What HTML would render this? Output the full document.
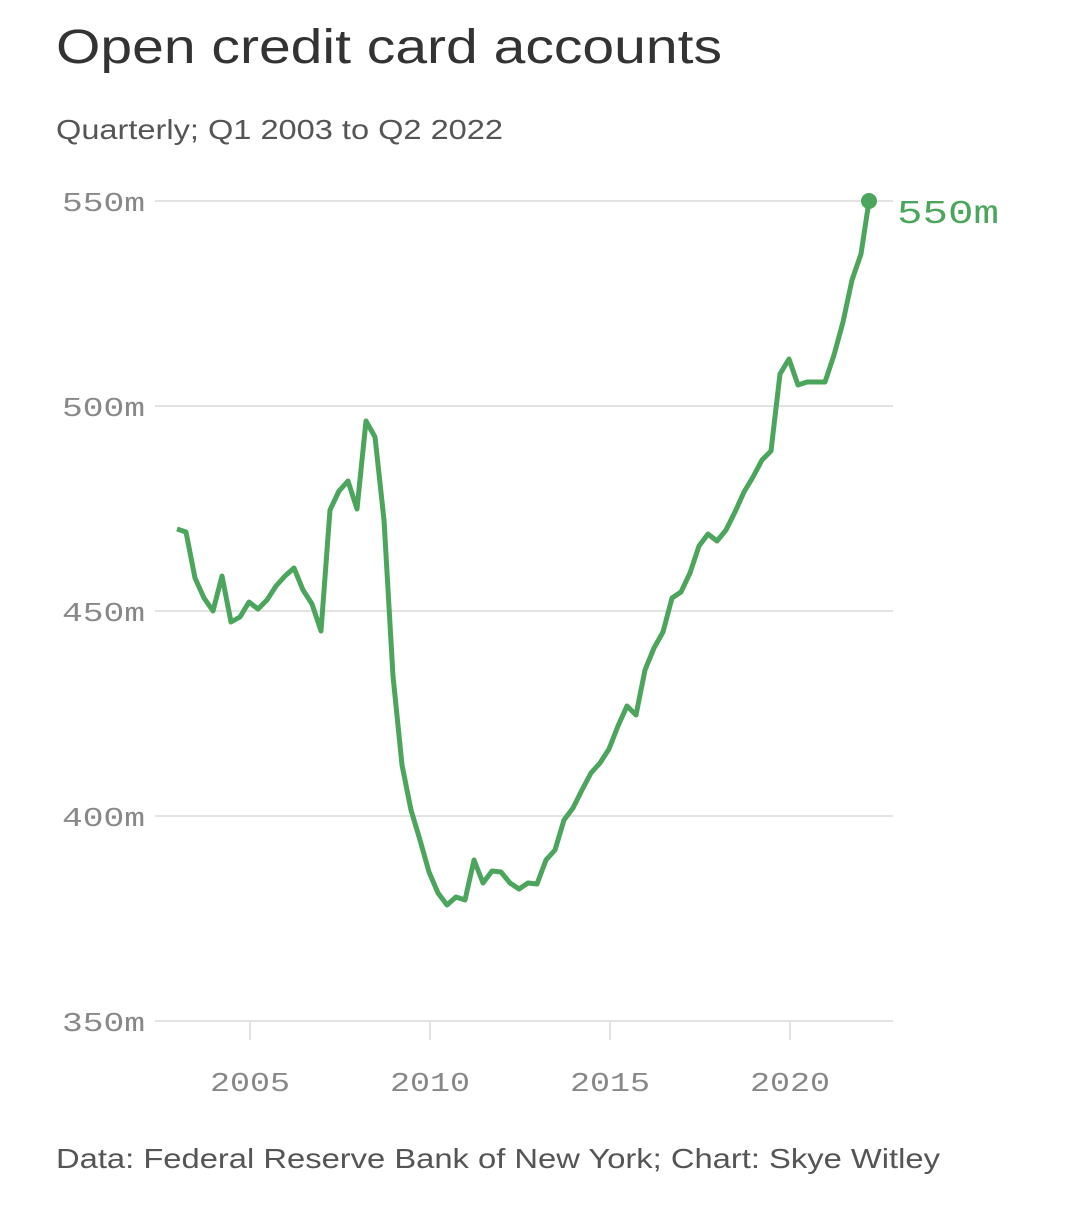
<!DOCTYPE html>
<html><head><meta charset="utf-8"><style>
body{margin:0;background:#fff;width:1084px;height:1200px;overflow:hidden}
</style></head><body>
<svg width="1084" height="1200" xmlns="http://www.w3.org/2000/svg">
<text x="56" y="63" font-family="Liberation Sans, sans-serif" font-size="48" fill="#333" textLength="666" lengthAdjust="spacingAndGlyphs">Open credit card accounts</text>
<text x="56" y="139" font-family="Liberation Sans, sans-serif" font-size="28" fill="#555" textLength="447" lengthAdjust="spacingAndGlyphs">Quarterly; Q1 2003 to Q2 2022</text>
<g stroke="#e3e3e3" stroke-width="2">
<line x1="155" y1="201" x2="893" y2="201"/><line x1="155" y1="406" x2="893" y2="406"/>
<line x1="155" y1="611" x2="893" y2="611"/><line x1="155" y1="816" x2="893" y2="816"/>
<line x1="155" y1="1021" x2="893" y2="1021"/>
<line x1="250" y1="1021" x2="250" y2="1040"/><line x1="430" y1="1021" x2="430" y2="1040"/>
<line x1="610" y1="1021" x2="610" y2="1040"/><line x1="790" y1="1021" x2="790" y2="1040"/>
</g>
<g font-family="Liberation Mono, monospace" font-size="27" fill="#888">
<text x="62" y="211" textLength="83" lengthAdjust="spacingAndGlyphs">550m</text>
<text x="62" y="416" textLength="83" lengthAdjust="spacingAndGlyphs">500m</text>
<text x="62" y="621" textLength="83" lengthAdjust="spacingAndGlyphs">450m</text>
<text x="62" y="826" textLength="83" lengthAdjust="spacingAndGlyphs">400m</text>
<text x="62" y="1031" textLength="83" lengthAdjust="spacingAndGlyphs">350m</text>
<text x="210" y="1091" textLength="80" lengthAdjust="spacingAndGlyphs">2005</text>
<text x="390" y="1091" textLength="80" lengthAdjust="spacingAndGlyphs">2010</text>
<text x="570" y="1091" textLength="80" lengthAdjust="spacingAndGlyphs">2015</text>
<text x="750" y="1091" textLength="80" lengthAdjust="spacingAndGlyphs">2020</text>
</g>
<polyline fill="none" stroke="#4ca55c" stroke-width="5" stroke-linejoin="round" points="177,529 186,532 195,578 204,598 213,611 222,576 231,622 240,617 249,602 258,609 267,600 276,586 285,576 294,568 303,590 312,604 321,631 330,510 339,491 348,481 357,509 366,421 375,437 384,520 393,676 402,765 411,810 420,840 429,872 438,893 447,905 456,897 465,900 474,860 483,883 492,871 501,872 510,883 519,889 528,883 537,884 546,860 555,850 564,820 573,808 582,790 591,773 600,763 609,749 618,726 627,706 636,715 645,670 654,648 663,632 672,598 681,592 690,573 699,546 708,534 717,541 726,530 735,512 744,492 753,477 762,460 771,451 780,374 789,359 798,385 807,382 816,382 825,382 834,355 843,322 852,280 861,254 869,201"/>
<circle cx="869" cy="201" r="8" fill="#4ca55c"/>
<text x="897" y="223" font-family="Liberation Mono, monospace" font-size="33" fill="#4ca55c" textLength="102" lengthAdjust="spacingAndGlyphs">550m</text>
<text x="56" y="1168" font-family="Liberation Sans, sans-serif" font-size="28" fill="#555" textLength="884" lengthAdjust="spacingAndGlyphs">Data: Federal Reserve Bank of New York; Chart: Skye Witley</text>
</svg>
</body></html>
